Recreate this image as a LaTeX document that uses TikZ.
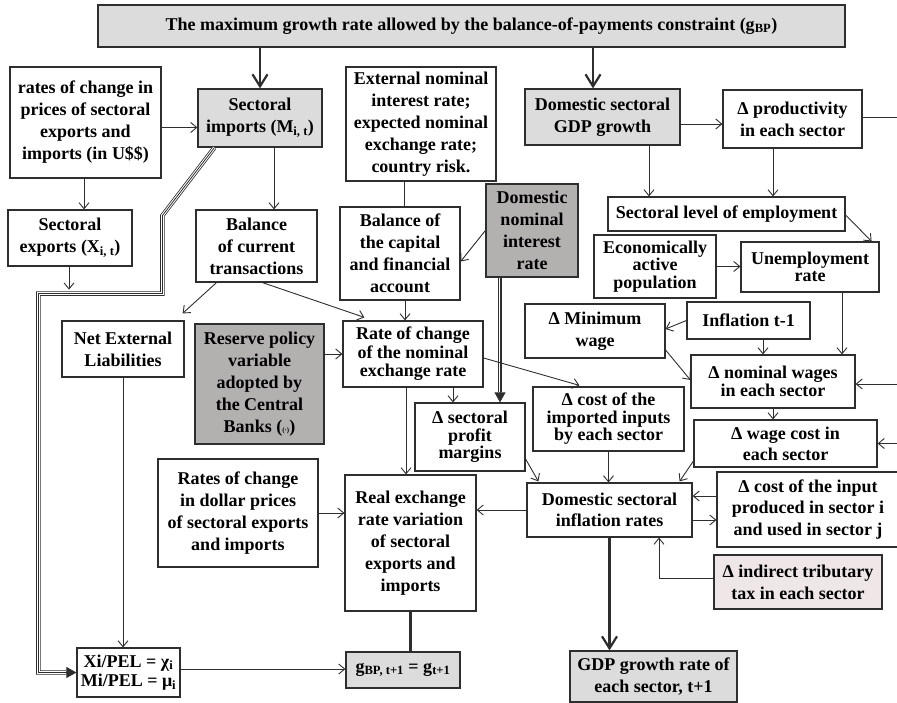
\documentclass[tikz,border=0pt]{standalone}
\usepackage{xcolor}
\usepackage{fontspec}
\setmainfont{Liberation Serif}
\usetikzlibrary{arrows.meta}

\definecolor{boxgray}{HTML}{DCDCDC}
\definecolor{policygray}{HTML}{B3B0B0}
\definecolor{taxpink}{HTML}{EFE7E7}
\definecolor{edge}{HTML}{2E2E2E}

\tikzset{
    blk/.style={draw=edge, line width=1.2pt, fill=white, align=center, inner sep=0pt,
        font=\bfseries\fontsize{18}{22}\selectfont},
    tight/.style={font=\bfseries\fontsize{18}{17.5}\selectfont},
    flow/.style={draw=edge, line width=0.9pt, -{Straight Barb[length=6pt,width=10pt]}},
    thickflow/.style={draw=edge, line width=2.2pt, -{Straight Barb[length=12pt,width=15pt]}},
    triple/.style={draw=edge, line width=0.8pt,
        preaction={draw=edge, line width=4.4pt}, preaction={draw=white, line width=2.8pt}},
    tip/.style={draw=edge, line width=0.8pt, -{Triangle[length=10pt,width=11pt]}},
}

\begin{document}
\begin{tikzpicture}[x=1pt, y=-1pt]
            \useasboundingbox (0, 0) rectangle (897, 703);

            \node [blk, fill=boxgray, minimum width=747, minimum height=42] (top) at (471.5, 26)
                {The maximum growth rate allowed by the balance-of-payments constraint (g\textsubscript{BP})};

            \node [blk, minimum width=151, minimum height=111] (rates) at (85.5, 122.5)
                {rates of change in\\ prices of sectoral\\ exports and\\ imports (in U\$\$)};
            \node [blk, fill=boxgray, minimum width=124, minimum height=58] (imp) at (260, 118)
                {Sectoral\\ imports (M\textsubscript{i, t})};
            \node [blk, minimum width=150, minimum height=114] (ext) at (421, 124)
                {External nominal\\ interest rate;\\ expected nominal\\ exchange rate;\\ country risk.};
            \node [blk, fill=boxgray, minimum width=155, minimum height=56] (gdp) at (602.5, 117)
                {Domestic sectoral\\ GDP growth};
            \node [blk, minimum width=139, minimum height=58] (prod) at (792.5, 119)
                {Δ productivity\\ in each sector};

            \node [blk, minimum width=124, minimum height=56] (exp) at (70, 238)
                {Sectoral\\ exports (X\textsubscript{i, t})};
            \node [blk, minimum width=121, minimum height=72] (bct) at (256.5, 246)
                {Balance\\ of current\\ transactions};
            \node [blk, minimum width=120, minimum height=93] (bcf) at (400, 253.5)
                {Balance of\\ the capital\\ and financial\\ account};
            \node [blk, fill=policygray, minimum width=92, minimum height=93] (dni) at (532, 230.5)
                {Domestic\\ nominal\\ interest\\ rate};
            \node [blk, minimum width=237, minimum height=34] (emp) at (726.5, 214)
                {Sectoral level of employment};
            \node [blk, tight, minimum width=122, minimum height=63] (eap) at (655, 266.5)
                {Economically\\ active\\ population};
            \node [blk, tight, minimum width=138, minimum height=50] (unr) at (810, 267)
                {Unemployment\\ rate};

            \node [blk, minimum width=122, minimum height=56] (nel) at (123, 349)
                {Net External\\ Liabilities};
            \node [blk, fill=policygray, minimum width=129, minimum height=120] (rpv) at (259.5, 384)
                {Reserve policy\\ variable\\ adopted by\\ the Central\\ Banks ({\scriptsize(·)})};
            \node [blk, font=\bfseries\fontsize{18}{18.5}\selectfont, minimum width=140, minimum height=66] (rcn) at (413, 354)
                {Rate of change\\ of the nominal\\ exchange rate};
            \node [blk, minimum width=140, minimum height=54] (mw) at (595, 331)
                {Δ Minimum\\ wage};
            \node [blk, minimum width=123, minimum height=37] (inf1) at (748.5, 320.5)
                {Inflation t-1};
            \node [blk, tight, minimum width=164, minimum height=53] (nw) at (773, 381.5)
                {Δ nominal wages\\ in each sector};

            \node [blk, tight, minimum width=110, minimum height=68] (dpm) at (470, 437)
                {Δ sectoral\\ profit\\ margins};
            \node [blk, tight, minimum width=151, minimum height=64] (dci) at (608.5, 419)
                {Δ cost of the\\ imported inputs\\ by each sector};
            \node [blk, font=\bfseries\fontsize{18}{21}\selectfont, minimum width=183, minimum height=47] (wc) at (785.5, 443.5)
                {Δ wage cost in\\ each sector};
            \node [blk, font=\bfseries\fontsize{18}{21}\selectfont, minimum width=165, minimum height=54] (dsi) at (609.5, 510)
                {Domestic sectoral\\ inflation rates};
            \node [blk, font=\bfseries\fontsize{18}{21.5}\selectfont, minimum width=182, minimum height=75] (cip) at (808, 509.5)
                {Δ cost of the input\\ produced in sector i\\ and used in sector j};

            \node [blk, minimum width=160, minimum height=108] (rdp) at (238, 513)
                {Rates of change\\ in dollar prices\\ of sectoral exports\\ and imports};
            \node [blk, minimum width=131, minimum height=136] (rer) at (410.5, 543)
                {Real exchange\\ rate variation\\ of sectoral\\ exports and\\ imports};
            \node [blk, fill=taxpink, minimum width=168, minimum height=54] (tax) at (798, 582)
                {Δ indirect tributary\\ tax in each sector};

            \node [blk, font=\bfseries\fontsize{18}{19.5}\selectfont, minimum width=103, minimum height=49] (xpel) at (128.5, 672.5)
                {Xi/PEL = χ\textsubscript{i}\\ Mi/PEL = μ\textsubscript{i}};
            \node [blk, fill=boxgray, minimum width=114, minimum height=36] (gbp) at (403, 670)
                {g\textsubscript{BP, t+1} = g\textsubscript{t+1}};
            \node [blk, fill=boxgray, minimum width=167, minimum height=51] (gdpn) at (653.5, 676.5)
                {GDP growth rate of\\ each sector, t+1};

            % free ends at the right border
            \coordinate (rout) at (897, 117);
            \coordinate (rin1) at (897, 384);
            \coordinate (rin2) at (897, 443.5);

            % main flows
            \draw [thickflow] (top.south -| imp.north) -- (imp.north);
            \draw [thickflow] ([xshift=-9.5pt]top.south -| gdp.north) -- ([xshift=-9.5pt]gdp.north);
            \draw [thickflow] (dsi.south) -- (dsi.south |- gdpn.north);
            \draw [draw=edge, line width=2.2pt] (rer.south) -- (rer.south |- gbp.north);

            % triple lines
            \draw [triple] ([xshift=17pt]imp.south west) -- ++(-52, 68) -- ++(0, 78) -- ++(-124, 0)
                |- ([xshift=-10pt]xpel.west);
            \draw [tip] ([xshift=-11pt]xpel.west) -- (xpel.west);
            \draw [triple] ([xshift=-32pt]dni.south) -- ([xshift=-32pt, yshift=10pt]dni.south |- dpm.north);
            \draw [tip] ([xshift=-32pt, yshift=11pt]dni.south |- dpm.north) -- ([xshift=-32pt]dni.south |- dpm.north);

            % left part
            \draw [flow] ([yshift=-5pt]rates.east) -- ([yshift=-5pt]rates.east -| imp.west);
            \draw [flow] ([xshift=-1.5pt]rates.south) -- ([xshift=-1.5pt]rates.south |- exp.north);
            \draw [flow] ([xshift=-1pt]exp.south) -- ++(0, 23);
            \draw [flow] ([xshift=14pt]imp.south) -- ([xshift=14pt]imp.south |- bct.north);
            \draw [flow] ([xshift=-40pt]bct.south) -- ([xshift=-2pt, yshift=7pt]nel.north east);
            \draw [flow] ([xshift=6pt]bct.south) -- ([xshift=22pt, yshift=3pt]rcn.north west);
            \draw [flow] (nel.south) -- (nel.south |- xpel.north);
            \draw [flow] ([yshift=3.5pt]xpel.east) -- ([yshift=3.5pt]xpel.east -| gbp.west);

            % middle part
            \draw [draw=edge, line width=0.9pt] ([xshift=4pt]bcf.north |- ext.south) -- ([xshift=4pt]bcf.north);
            \draw [flow] (dni.west) -- ([yshift=-8pt]bcf.east);
            \draw [flow] ([xshift=5pt]bcf.south) -- ([xshift=5pt]bcf.south |- rcn.north);
            \draw [flow] (rcn.west -| rpv.east) -- (rcn.west);
            \draw [flow] ([xshift=-7pt]rcn.south) -- ([xshift=-7pt]rcn.south |- rer.north);
            \draw [flow] ([xshift=40pt]rcn.south) -- ([xshift=40pt]rcn.south |- dpm.north);
            \draw [flow] ([yshift=-4pt]rcn.east) -- ([xshift=47pt, yshift=1pt]dci.north west);
            \draw [flow] (rdp.east) -- (rdp.east -| rer.west);
            \draw [flow] ([yshift=-22pt]dpm.east) -- ([xshift=12pt, yshift=1pt]dsi.north west);
            \draw [flow] (dci.south) -- (dci.south |- dsi.north);
            \draw [flow] (dsi.west) -- (dsi.west -| rer.east);

            % right part
            \draw [flow] ([yshift=-7pt]gdp.east) -- ([yshift=-7pt]gdp.east -| prod.west);
            \draw [draw=edge, line width=0.9pt] ([yshift=2pt]prod.east) -- (rout);
            \draw [flow] ([xshift=46.5pt]gdp.south) -- ([xshift=46.5pt]gdp.south |- emp.north);
            \draw [flow] ([xshift=-19.5pt]prod.south) -- ([xshift=-19.5pt]prod.south |- emp.north);
            \draw [flow] ([yshift=-1pt]emp.east) -- ([xshift=-8pt]unr.north east);
            \draw [flow] (eap.east) -- (eap.east -| unr.west);
            \draw [flow] (inf1.west) -- ([yshift=2pt]mw.east);
            \draw [flow] ([xshift=14.5pt]inf1.south) -- ([xshift=14.5pt]inf1.south |- nw.north);
            \draw [flow] ([yshift=-19pt]mw.east) -- ([yshift=1.5pt]nw.west);
            \draw [flow] ([xshift=32pt]unr.south) -- ([xshift=32pt]unr.south |- nw.north);
            \draw [flow] (rin1) -- (rin1 -| nw.east);
            \draw [flow] (nw.south) -- (nw.south |- wc.north);
            \draw [flow] (rin2) -- (wc.east);
            \draw [flow] ([yshift=-17.5pt]wc.west) -- ([xshift=-13pt, yshift=1pt]dsi.north east);
            \draw [flow] ([yshift=13.5pt]cip.west) -- ([yshift=13.5pt]cip.west -| dsi.east);
            \draw [flow] ([yshift=-10pt]dsi.east) -- ([yshift=-10pt]dsi.east -| cip.west);
            \draw [flow] ([yshift=4pt]tax.west) -| ([xshift=49.5pt]dsi.south);
        \end{tikzpicture}
\end{document}
